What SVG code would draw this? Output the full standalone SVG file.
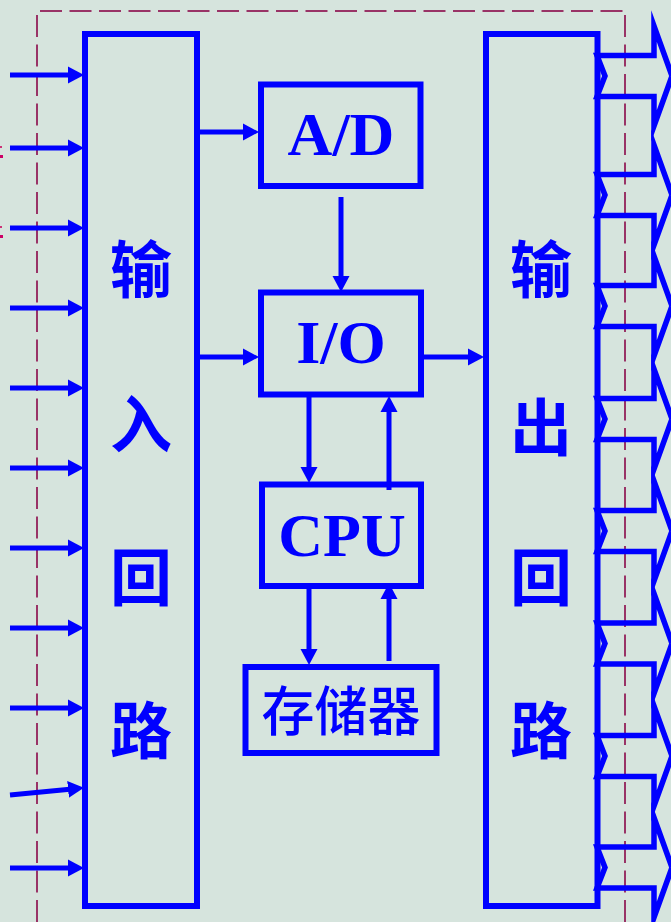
<svg xmlns="http://www.w3.org/2000/svg" width="671" height="922" viewBox="0 0 671 922">
<defs>
<style>
.box{fill:none;stroke:#0000FF;stroke-width:6}
.lat{font-family:"Liberation Serif","Times New Roman",serif;font-weight:bold;font-size:62px;fill:#0000FF;text-anchor:middle}
.cjk{font-family:"Noto Sans CJK SC","Noto Sans CJK JP",sans-serif;font-weight:600;font-size:62px;fill:#0000FF;text-anchor:middle}
.mem{font-family:"Noto Sans CJK SC","Noto Sans CJK JP",sans-serif;font-weight:500;font-size:53px;fill:#0000FF;text-anchor:middle}
.conn{stroke:#0000FF;stroke-width:5;fill:none;marker-end:url(#ah)}
.out{fill:none;stroke:#0000FF;stroke-width:5.5;stroke-miterlimit:12}
.dash{fill:none;stroke:#993366;stroke-width:2;stroke-dasharray:22 7.5}
</style>
<marker id="ah" markerUnits="userSpaceOnUse" markerWidth="17" markerHeight="18" refX="7" refY="8.5" orient="auto" viewBox="0 0 17 17">
<path d="M0,0 L16,8.5 L0,17 z" fill="#0000FF"/>
</marker>
</defs>
<rect x="0" y="0" width="671" height="922" fill="#D6E4DD"/>
<g id="frame">
<path class="dash" d="M40,11 H630"/>
<path class="dash" d="M37,15 V922"/>
<path class="dash" d="M625,15 V922"/>
<rect x="0" y="146" width="2" height="2" fill="#CC3377"/>
<rect x="0" y="155" width="3" height="3" fill="#CC0066"/>
<rect x="0" y="226" width="2" height="2" fill="#CC3377"/>
<rect x="0" y="235" width="3" height="3" fill="#CC0066"/>
</g>
<g id="input-box">
<rect class="box" x="85" y="34" width="112" height="872"/>
<text class="cjk" x="141" y="293">输</text>
<text class="cjk" x="141" y="448">入</text>
<text class="cjk" x="141" y="601">回</text>
<text class="cjk" x="141" y="754">路</text>
</g>
<g id="output-box">
<rect class="box" x="486" y="34" width="111.5" height="872"/>
<text class="cjk" x="541" y="293">输</text>
<text class="cjk" x="541" y="451">出</text>
<text class="cjk" x="541" y="601">回</text>
<text class="cjk" x="541" y="754">路</text>
</g>
<g id="ad">
<rect class="box" x="261" y="84.5" width="159.5" height="101.5" stroke-width="5.5"/>
<text class="lat" x="341" y="155">A/D</text>
</g>
<g id="io">
<rect class="box" x="261" y="292.5" width="160" height="102" stroke-width="5.5"/>
<text class="lat" x="341" y="363">I/O</text>
</g>
<g id="cpu">
<rect class="box" x="262" y="484.5" width="159" height="101.5" stroke-width="5.5"/>
<text class="lat" x="342" y="556">CPU</text>
</g>
<g id="memory">
<rect class="box" x="245.5" y="667" width="191" height="86" stroke-width="5.5"/>
<text class="mem" x="341" y="731">存储器</text>
</g>
<g id="outputs">
<polygon class="out" points="597,55.5 654,55.5 654,26 672,76 654,126 654,96.5 597,96.5 605,76"/>
<polygon class="out" points="597,174.5 654,174.5 654,145 672,195 654,245 654,215.5 597,215.5 605,195"/>
<polygon class="out" points="597,285.5 654,285.5 654,256 672,306 654,356 654,326.5 597,326.5 605,306"/>
<polygon class="out" points="597,398.5 654,398.5 654,369 672,419 654,469 654,439.5 597,439.5 605,419"/>
<polygon class="out" points="597,510.5 654,510.5 654,481 672,531 654,581 654,551.5 597,551.5 605,531"/>
<polygon class="out" points="597,623 654,623 654,593.5 672,643.5 654,693.5 654,664 597,664 605,643.5"/>
<polygon class="out" points="597,735.5 654,735.5 654,706 672,756 654,806 654,776.5 597,776.5 605,756"/>
<polygon class="out" points="597,847 654,847 654,817.5 672,867.5 654,917.5 654,888 597,888 605,867.5"/>
</g>
<g id="connectors">
<line class="conn" x1="10" y1="75" x2="75" y2="75"/>
<line class="conn" x1="10" y1="148" x2="75" y2="148"/>
<line class="conn" x1="10" y1="228" x2="75" y2="228"/>
<line class="conn" x1="10" y1="308" x2="75" y2="308"/>
<line class="conn" x1="10" y1="388" x2="75" y2="388"/>
<line class="conn" x1="10" y1="468" x2="75" y2="468"/>
<line class="conn" x1="10" y1="548" x2="75" y2="548"/>
<line class="conn" x1="10" y1="628" x2="75" y2="628"/>
<line class="conn" x1="10" y1="708" x2="75" y2="708"/>
<line class="conn" x1="10" y1="795" x2="75" y2="788.7"/>
<line class="conn" x1="10" y1="868" x2="75" y2="868"/>
<line class="conn" x1="200" y1="132" x2="250" y2="132"/>
<line class="conn" x1="200" y1="357" x2="250" y2="357"/>
<line class="conn" x1="424" y1="357" x2="475" y2="357"/>
<line class="conn" x1="341" y1="197" x2="341" y2="283"/>
<line class="conn" x1="309" y1="397" x2="309" y2="474"/>
<line class="conn" x1="389" y1="490" x2="389" y2="405"/>
<line class="conn" x1="309" y1="589" x2="309" y2="656"/>
<line class="conn" x1="389" y1="661" x2="389" y2="592"/>
</g>
</svg>
